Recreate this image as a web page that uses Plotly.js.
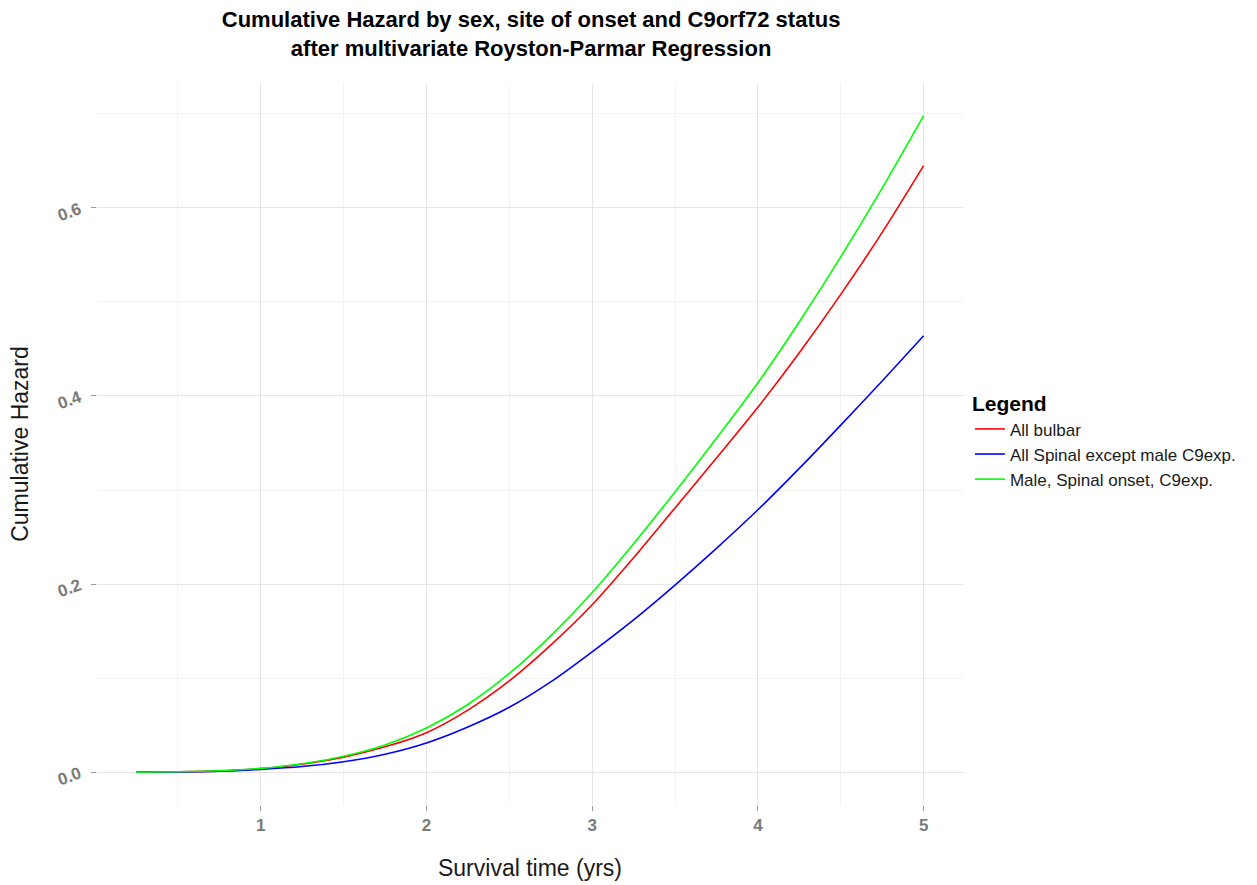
<!DOCTYPE html>
<html>
<head>
<meta charset="utf-8">
<script src="https://cdn.plot.ly/plotly-3.0.1.min.js"></script>
<style>html,body{margin:0;padding:0;background:#fff;}#chart{width:1257px;height:885px;}</style>
</head>
<body>
<div id="chart"></div>
<script>
// Survival time (yrs)
const timeYrs = [0.25, 0.5, 0.75, 1, 1.25, 1.5, 1.75, 2, 2.25, 2.5, 2.75, 3, 3.25, 3.5, 3.75, 4, 4.25, 4.5, 4.75, 5];
// Cumulative hazard estimates
const allBulbar = [0, 0.0004, 0.0014, 0.0038, 0.0085, 0.016, 0.027, 0.042, 0.066, 0.097, 0.135, 0.178, 0.228, 0.281, 0.334, 0.388, 0.446, 0.508, 0.574, 0.645];
const allSpinal = [0, 0.0003, 0.001, 0.003, 0.006, 0.011, 0.019, 0.031, 0.048, 0.069, 0.096, 0.128, 0.162, 0.199, 0.238, 0.279, 0.323, 0.369, 0.416, 0.464];
const maleSpinalC9 = [0, 0.0004, 0.0015, 0.004, 0.009, 0.017, 0.029, 0.047, 0.072, 0.105, 0.145, 0.191, 0.243, 0.298, 0.355, 0.414, 0.479, 0.548, 0.621, 0.698];
const seriesNames = ["All bulbar", "All Spinal except male C9exp.", "Male, Spinal onset, C9exp."];
const seriesColors = ["#ff0000", "#0000ff", "#00ff00"];
const xTicks = [1, 2, 3, 4, 5];
const yTicks = [0.0, 0.2, 0.4, 0.6];
const yTickText = ["0.0", "0.2", "0.4", "0.6"];

const seriesValues = [allBulbar, allSpinal, maleSpinalC9];
const traces = seriesValues.map((vals, i) => ({
  x: timeYrs,
  y: vals,
  type: "scatter",
  mode: "lines",
  name: seriesNames[i],
  line: {color: seriesColors[i], width: 1.6, shape: "spline", smoothing: 0.8}
}));

const FONT = "Liberation Sans, Arial, sans-serif";
const tickFont = {family: FONT, size: 17, color: "#7a7a7a", weight: "bold"};

const layout = {
  width: 1257,
  height: 885,
  paper_bgcolor: "#ffffff",
  plot_bgcolor: "#ffffff",
  margin: {l: 97, r: 294, t: 83, b: 80},
  title: {
    text: "<b>Cumulative Hazard by sex, site of onset and C9orf72 status<br>after multivariate Royston-Parmar Regression</b>",
    font: {family: FONT, size: 22, color: "#000000"},
    x: 0.4225, xanchor: "center",
    y: 0.969, yanchor: "top"
  },
  xaxis: {
    range: [0.0125, 5.2375],
    tickvals: xTicks,
    ticktext: xTicks.map(String),
    ticks: "outside",
    ticklen: 5,
    tickwidth: 1,
    tickcolor: "#9a9a9a",
    tickfont: tickFont,
    showgrid: true,
    gridcolor: "#e6e6e6",
    gridwidth: 1,
    zeroline: false,
    showline: false,
    minor: {tickvals: [0.5, 1.5, 2.5, 3.5, 4.5], showgrid: true, gridcolor: "#f3f3f3", gridwidth: 1, ticks: ""},
    title: {text: "Survival time (yrs)", font: {family: FONT, size: 23, color: "#1a1a1a"}, standoff: 25}
  },
  yaxis: {
    range: [-0.0349, 0.7328],
    tickvals: yTicks,
    ticktext: yTickText,
    tickangle: -20,
    ticks: "outside",
    ticklen: 5,
    tickwidth: 1,
    tickcolor: "#9a9a9a",
    tickfont: tickFont,
    ticklabelstandoff: 8,
    showgrid: true,
    gridcolor: "#e6e6e6",
    gridwidth: 1,
    zeroline: false,
    showline: false,
    minor: {tickvals: [0.1, 0.3, 0.5, 0.7], showgrid: true, gridcolor: "#f3f3f3", gridwidth: 1, ticks: ""},
    title: {text: "Cumulative Hazard", font: {family: FONT, size: 23, color: "#1a1a1a"}, standoff: 20}
  },
  legend: {
    title: {text: "<b>Legend</b>", font: {family: FONT, size: 21, color: "#000000"}},
    font: {family: FONT, size: 17, color: "#1a1a1a"},
    x: 1.008, xanchor: "left",
    y: 0.583, yanchor: "top",
    itemwidth: 30,
    tracegroupgap: 0,
    bgcolor: "rgba(0,0,0,0)"
  },
  showlegend: true
};

Plotly.newPlot("chart", traces, layout, {displayModeBar: false, staticPlot: true});
</script>
</body>
</html>
